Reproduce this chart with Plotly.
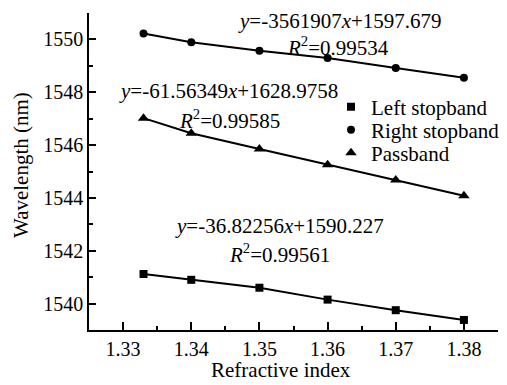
import plotly.graph_objects as go

refractive_index = [1.333, 1.34, 1.35, 1.36, 1.37, 1.38]
left_stopband = [1541.12, 1540.90, 1540.60, 1540.15, 1539.75, 1539.38]
right_stopband = [1550.22, 1549.89, 1549.57, 1549.30, 1548.92, 1548.55]
passband = [1547.02, 1546.45, 1545.85, 1545.26, 1544.68, 1544.08]

series_names = ["Left stopband", "Right stopband", "Passband"]
eq_texts = [
    "<i>y</i>=-36.82256<i>x</i>+1590.227",
    "<i>y</i>=-3561907<i>x</i>+1597.679",
    "<i>y</i>=-61.56349<i>x</i>+1628.9758",
]
r2_texts = [
    "<i>R</i><sup>2</sup>=0.99561",
    "<i>R</i><sup>2</sup>=0.99534",
    "<i>R</i><sup>2</sup>=0.99585",
]
x_title = "Refractive index"
y_title = "Wavelength (nm)"

FONT = "Liberation Serif"
FS = 20
FA = 21
fig = go.Figure()

data = [left_stopband, right_stopband, passband]
symbols = ["square", "circle", "triangle-up"]
sizes = [8, 8, 10]
legend_ids = ["legend", "legend2", "legend3"]

for name, ys, sym, sz, lg in zip(series_names, data, symbols, sizes, legend_ids):
    fig.add_trace(go.Scatter(
        x=refractive_index, y=ys, mode="lines", showlegend=False,
        line=dict(color="black", width=2), hoverinfo="skip"))
    fig.add_trace(go.Scatter(
        x=refractive_index, y=ys, mode="markers", name=name, legend=lg,
        marker=dict(symbol=sym, size=sz, color="black")))

# page body has an 8px margin; compensate so the plot lands where the reference has it
OFF = 8
W, H = 507 - OFF, 385 - OFF
L, R, T, B = 89 - OFF, 498 - OFF, 13 - OFF, 330 - OFF
ann_pos = [
    (279, 226, 279, 253),   # left stopband (screen pixel centers)
    (340, 21, 338, 46),     # right stopband
    (228, 91, 229, 119),    # passband
]
def px(p):
    return (p - OFF - L) / (R - L)
def py(p):
    return (B - (p - OFF)) / (B - T)

def add_text(x, y, text, angle=0):
    fig.add_annotation(xref="paper", yref="paper", x=px(x), y=py(y), text=text,
                       xanchor="center", yanchor="middle", textangle=angle,
                       showarrow=False, font=dict(family=FONT, size=FA, color="black"))

for eq, r2, (ex, ey, rx, ry) in zip(eq_texts, r2_texts, ann_pos):
    add_text(ex, ey, eq)
    add_text(rx, ry, r2)

add_text(281, 370, x_title)
add_text(21, 165, y_title, angle=-90)

legend_rows = [107, 130, 153]
def legend_cfg(row):
    return dict(x=px(331), y=py(row), xanchor="left", yanchor="middle",
                bgcolor="rgba(0,0,0,0)", font=dict(family=FONT, size=FA),
                itemwidth=30, tracegroupgap=0, borderwidth=0)

fig.update_layout(
    width=W, height=H,
    margin=dict(l=L, r=W - R, t=T, b=H - B, autoexpand=False),
    paper_bgcolor="white", plot_bgcolor="white",
    font=dict(family=FONT, size=FS, color="black"),
    legend=legend_cfg(legend_rows[0]),
    legend2=legend_cfg(legend_rows[1]),
    legend3=legend_cfg(legend_rows[2]),
    xaxis=dict(
        range=[1.325, 1.385], tickvals=[1.33, 1.34, 1.35, 1.36, 1.37, 1.38],
        ticktext=["1.33", "1.34", "1.35", "1.36", "1.37", "1.38"],
        showline=True, linecolor="black", linewidth=1.5, mirror=False,
        ticks="inside", ticklen=8, tickwidth=1.5, tickcolor="black",
        showgrid=False, zeroline=False, automargin=False,
        minor=dict(ticks="inside", ticklen=4, tickwidth=1.5, tickcolor="black",
                   dtick=0.005, tick0=1.325, showgrid=False),
        tickfont=dict(family=FONT, size=FS),
    ),
    yaxis=dict(
        range=[1539, 1551], tickvals=[1540, 1542, 1544, 1546, 1548, 1550],
        showline=True, linecolor="black", linewidth=1.5, mirror=False,
        ticks="inside", ticklen=7, tickwidth=1.5, tickcolor="black",
        showgrid=False, zeroline=False, automargin=False,
        minor=dict(ticks="inside", ticklen=4, tickwidth=1.5, tickcolor="black",
                   dtick=1, tick0=1539, showgrid=False),
        tickfont=dict(family=FONT, size=FS),
    ),
)

fig.write_html("out.html")
